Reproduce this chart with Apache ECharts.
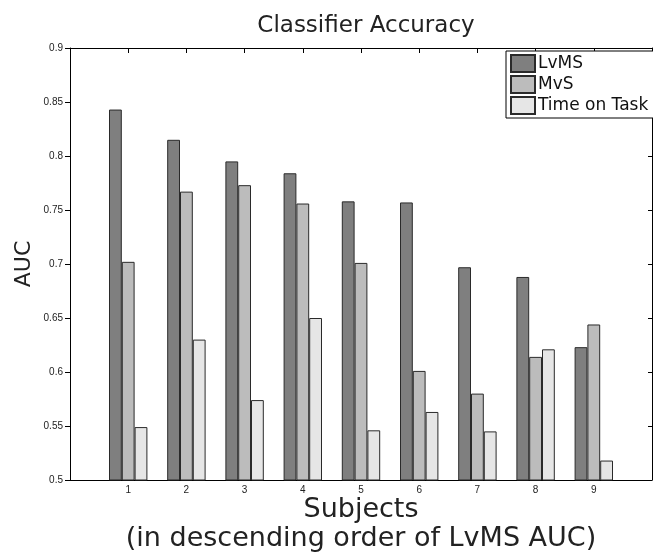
<!DOCTYPE html>
<html>
<head>
<meta charset="utf-8">
<script src="https://cdn.jsdelivr.net/npm/echarts@6/dist/echarts.min.js"></script>
<style>
  html, body { margin: 0; padding: 0; background: #fff; }
  #chart { width: 653px; height: 556px; }
</style>
</head>
<body>
<div id="chart"></div>
<script>
// Subjects, ordered by LvMS AUC
const subjects = ['1', '2', '3', '4', '5', '6', '7', '8', '9'];
const seriesNames = ['LvMS', 'MvS', 'Time on Task'];
const lvms = [0.843, 0.815, 0.795, 0.784, 0.758, 0.757, 0.697, 0.688, 0.623];
const mvs  = [0.702, 0.767, 0.773, 0.756, 0.701, 0.601, 0.580, 0.614, 0.644];
const tot  = [0.549, 0.630, 0.574, 0.650, 0.546, 0.563, 0.545, 0.621, 0.518];
const yTicks = { min: 0.5, max: 0.9, step: 0.05 };

// axis runs from 0 to 10, subjects sit on the integer ticks in between
const categories = [''].concat(subjects, [' ']);
const pad = arr => [null].concat(arr, [null]);

const fill = ['#7f7f7f', '#bcbcbc', '#e6e6e6'];
const edge = '#2a2a2a';
const bigFont = 'DejaVu Sans';
const smallFont = 'Liberation Sans';

const chart = echarts.init(document.getElementById('chart'), null, { renderer: 'canvas' });

const barSeries = [lvms, mvs, tot].map((vals, i) => ({
  name: seriesNames[i],
  type: 'bar',
  data: pad(vals),
  barWidth: 12.8,
  barGap: '0%',
  itemStyle: { color: fill[i], borderColor: edge, borderWidth: 1 },
  emphasis: { disabled: true },
  animation: false
}));

chart.setOption({
  animation: false,
  backgroundColor: '#ffffff',
  title: {
    text: 'Classifier Accuracy',
    left: 361,
    textAlign: 'center',
    top: 10,
    textStyle: { fontFamily: bigFont, fontSize: 23, fontWeight: 'normal', color: '#222' }
  },
  legend: {
    data: seriesNames,
    orient: 'vertical',
    left: 506,
    top: 51,
    padding: [3, 8, 3, 4],
    itemWidth: 24,
    itemHeight: 17,
    itemGap: 2,
    icon: 'rect',
    backgroundColor: '#fff',
    borderColor: '#000',
    borderWidth: 1,
    borderRadius: 0,
    textStyle: { fontFamily: bigFont, fontSize: 17, color: '#111', padding: [0, 0, 0, -2] }
  },
  grid: { left: 70, right: 1, top: 48, bottom: 76, containLabel: false, outerBoundsMode: 'none' },
  xAxis: [
    {
      type: 'category',
      data: categories,
      boundaryGap: false,
      position: 'bottom',
      axisLine: { lineStyle: { color: '#000', width: 1 } },
      axisTick: { inside: true, length: 5, lineStyle: { color: '#000' } },
      axisLabel: { margin: 5, fontFamily: smallFont, fontSize: 10, color: '#222', interval: 0 },
      name: 'Subjects\n(in descending order of LvMS AUC)',
      nameLocation: 'middle',
      nameGap: 15,
      nameMoveOverlap: false,
      nameTextStyle: { fontFamily: bigFont, fontSize: 27, color: '#222', lineHeight: 29 },
      splitLine: { show: false }
    },
    {
      type: 'category',
      data: categories,
      boundaryGap: false,
      position: 'top',
      axisLine: { lineStyle: { color: '#000', width: 1 } },
      axisTick: { inside: true, length: 5, lineStyle: { color: '#000' } },
      axisLabel: { show: false },
      splitLine: { show: false }
    }
  ],
  yAxis: [
    {
      type: 'value',
      min: yTicks.min,
      max: yTicks.max,
      interval: yTicks.step,
      position: 'left',
      axisLine: { show: true, lineStyle: { color: '#000', width: 1 } },
      axisTick: { show: true, inside: false, length: 5, lineStyle: { color: '#000' } },
      axisLabel: { margin: 7, fontFamily: smallFont, fontSize: 10, color: '#222' },
      splitLine: { show: false },
      name: 'AUC',
      nameLocation: 'middle',
      nameRotate: 90,
      nameGap: 35,
      nameMoveOverlap: false,
      nameTextStyle: { fontFamily: bigFont, fontSize: 22, color: '#222' }
    },
    {
      type: 'value',
      min: yTicks.min,
      max: yTicks.max,
      interval: yTicks.step,
      position: 'right',
      axisLine: { show: true, lineStyle: { color: '#000', width: 1 } },
      axisTick: { show: true, inside: true, length: 4, lineStyle: { color: '#000' } },
      axisLabel: { show: false },
      splitLine: { show: false }
    }
  ],
  series: barSeries
});
</script>
</body>
</html>
